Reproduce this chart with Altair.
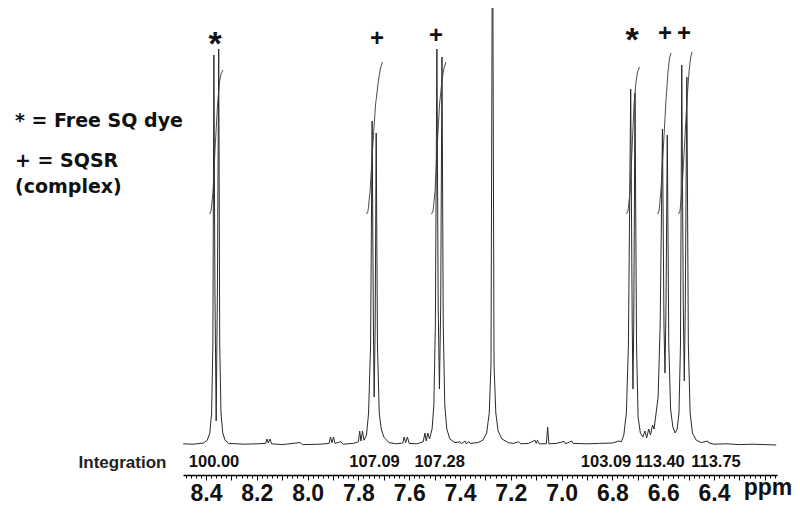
import altair as alt
import pandas as pd

# ---------------- data ----------------
# 1H NMR trace: (chemical shift / ppm, intensity in arbitrary units)
spectrum = [
    (8.490, 0.3), (8.450, 0.2), (8.410, 0.5), (8.395, 1.2), (8.385, 3.0), (8.378, 8.0),
    (8.373, 25.0), (8.369, 97.5), (8.365, 40.0), (8.360, 6.0), (8.355, 40.0), (8.350, 99.0),
    (8.346, 25.0), (8.341, 8.0), (8.334, 3.0), (8.325, 1.2), (8.310, 0.4),
    (8.250, 0.2), (8.200, 0.3), (8.165, 0.4), (8.160, 1.5), (8.155, 0.5), (8.148, 1.5),
    (8.142, 0.3), (8.100, 0.1), (8.030, 0.6), (8.020, 0.1), (7.950, 0.2), (7.915, 0.4),
    (7.910, 2.0), (7.904, 0.6), (7.898, 2.0), (7.892, 0.4), (7.870, 0.8), (7.860, 0.2),
    (7.820, 0.4), (7.800, 0.8), (7.795, 3.5), (7.790, 1.0), (7.784, 3.5), (7.778, 1.2),
    (7.768, 2.5), (7.760, 8.0), (7.752, 25.0), (7.746, 81.0), (7.741, 30.0), (7.738, 12.0),
    (7.734, 30.0), (7.730, 78.0), (7.725, 25.0), (7.718, 8.0), (7.710, 4.0), (7.700, 2.0),
    (7.680, 0.6), (7.650, 0.3), (7.625, 0.5), (7.620, 2.0), (7.614, 0.6), (7.607, 2.0),
    (7.600, 0.4), (7.570, 0.3), (7.545, 0.8), (7.538, 3.0), (7.533, 1.0), (7.527, 3.0),
    (7.520, 1.5), (7.510, 4.0), (7.503, 10.0), (7.497, 30.0), (7.491, 99.0), (7.486, 35.0),
    (7.481, 14.0), (7.476, 35.0), (7.471, 97.0), (7.466, 30.0), (7.460, 10.0), (7.452, 4.0),
    (7.440, 1.5), (7.420, 0.6), (7.400, 0.8), (7.395, 0.3), (7.380, 1.0), (7.375, 0.3),
    (7.365, 0.8), (7.360, 0.4), (7.330, 0.6), (7.310, 1.2), (7.295, 3.0), (7.285, 8.0),
    (7.278, 20.0), (7.272, 140.0), (7.266, 20.0), (7.259, 8.0), (7.250, 3.5), (7.235, 1.5),
    (7.210, 0.6), (7.190, 0.4), (7.170, 0.8), (7.160, 0.3), (7.130, 0.4), (7.105, 1.2),
    (7.100, 0.4), (7.095, 1.2), (7.088, 0.3), (7.060, 0.3), (7.055, 4.5), (7.050, 0.3),
    (7.020, 0.4), (6.990, 0.9), (6.985, 0.3), (6.960, 1.0), (6.955, 0.4), (6.900, 0.3),
    (6.850, 0.4), (6.800, 0.5), (6.775, 1.0), (6.765, 0.8), (6.755, 2.5), (6.745, 8.0),
    (6.737, 25.0), (6.728, 89.0), (6.722, 30.0), (6.719, 14.0), (6.716, 30.0), (6.711, 88.0),
    (6.705, 25.0), (6.699, 7.0), (6.690, 3.0), (6.680, 2.0), (6.672, 3.5), (6.665, 1.8),
    (6.657, 4.0), (6.650, 2.5), (6.642, 5.0), (6.636, 4.0), (6.628, 8.0), (6.620, 12.0),
    (6.612, 30.0), (6.603, 79.0), (6.597, 30.0), (6.593, 18.0), (6.589, 35.0), (6.584, 77.5),
    (6.578, 25.0), (6.571, 9.0), (6.562, 4.5), (6.553, 3.0), (6.545, 4.0), (6.538, 8.0),
    (6.532, 25.0), (6.527, 95.0), (6.521, 35.0), (6.517, 16.0), (6.513, 35.0), (6.507, 92.0),
    (6.501, 25.0), (6.494, 8.0), (6.485, 3.0), (6.470, 1.2), (6.450, 0.6), (6.425, 1.0),
    (6.420, 0.5), (6.400, 0.2), (6.350, 0.3), (6.300, 0.1), (6.250, 0.2), (6.200, 0.1),
    (6.155, 0.0),
]

# integral curves drawn over each signal: (signal, ppm, integral height)
integrals = [
    ("I1", 8.3862, 57.75), ("I1", 8.3803, 58.5), ("I1", 8.3724, 63.25), ("I1", 8.3646, 73.75),
    ("I1", 8.3547, 85.0), ("I1", 8.3469, 90.75), ("I1", 8.3409, 92.75), ("I1", 8.3331, 93.75),
    ("I2", 7.7681, 57.75), ("I2", 7.7622, 58.5), ("I2", 7.7543, 63.25), ("I2", 7.7445, 73.75),
    ("I2", 7.7327, 85.0), ("I2", 7.7209, 91.25), ("I2", 7.7130, 94.25), ("I2", 7.7051, 95.75),
    ("I3", 7.5122, 57.75), ("I3", 7.5063, 58.5), ("I3", 7.4984, 63.25), ("I3", 7.4906, 73.75),
    ("I3", 7.4807, 85.0), ("I3", 7.4709, 91.25), ("I3", 7.4630, 94.25), ("I3", 7.4551, 95.75),
    ("I4", 6.7445, 57.75), ("I4", 6.7386, 58.5), ("I4", 6.7307, 63.25), ("I4", 6.7228, 73.75),
    ("I4", 6.7150, 85.0), ("I4", 6.7071, 90.75), ("I4", 6.7012, 93.25), ("I4", 6.6933, 94.5),
    ("I5", 6.6224, 57.75), ("I5", 6.6165, 58.5), ("I5", 6.6087, 63.75), ("I5", 6.5988, 75.0),
    ("I5", 6.5890, 86.25), ("I5", 6.5811, 93.25), ("I5", 6.5752, 96.75), ("I5", 6.5693, 98.0),
    ("I6", 6.5398, 57.75), ("I6", 6.5339, 58.5), ("I6", 6.5260, 63.75), ("I6", 6.5161, 75.0),
    ("I6", 6.5063, 86.25), ("I6", 6.4984, 93.25), ("I6", 6.4925, 96.75), ("I6", 6.4866, 98.25),
]

# peak markers
marker_ppm = [8.3646, 7.7268, 7.4945, 6.7228, 6.5929, 6.5181]
marker_sym = ["*", "+", "+", "*", "+", "+"]
marker_int = [102.0, 101.75, 102.5, 103.0, 103.0, 103.0]

# integration values under the signals
integ_ppm = [8.3685, 7.7366, 7.4803, 6.8252, 6.6126, 6.3921]
integ_text = ["100.00", "107.09", "107.28", "103.09", "113.40", "113.75"]

# axis labels
tick_labels = [8.4, 8.2, 8.0, 7.8, 7.6, 7.4, 7.2, 7.0, 6.8, 6.6, 6.4]
minor_ticks = [round(6.16 + 0.02 * i, 2) for i in range(117)]

legend_lines = ["* = Free SQ dye", "+ = SQSR", "(complex)"]
legend_int = [79.5, 69.5, 63.0]

# ---------------- tables ----------------
spec_df = pd.DataFrame({
    "ppm": [p for p, _ in spectrum],
    "intensity": [v for _, v in spectrum],
    "idx": list(range(len(spectrum))),
})
int_df = pd.DataFrame({
    "group": [g for g, _, _ in integrals],
    "ppm": [p for _, p, _ in integrals],
    "intensity": [v for _, _, v in integrals],
    "idx": list(range(len(integrals))),
})
plus_df = pd.DataFrame({
    "ppm": [p for p, s in zip(marker_ppm, marker_sym) if s == "+"],
    "intensity": [v for v, s in zip(marker_int, marker_sym) if s == "+"],
    "text": ["+" for s in marker_sym if s == "+"],
})
star_df = pd.DataFrame({
    "ppm": [p for p, s in zip(marker_ppm, marker_sym) if s == "*"],
    "intensity": [v for v, s in zip(marker_int, marker_sym) if s == "*"],
    "text": ["*" for s in marker_sym if s == "*"],
})
integ_df = pd.DataFrame({"ppm": integ_ppm, "intensity": [-5.5] * len(integ_ppm), "text": integ_text})
label_df = pd.DataFrame({"ppm": [8.7287], "intensity": [-5.75], "text": ["Integration"]})
unit_df = pd.DataFrame({"ppm": [6.1874], "intensity": [-12.5], "text": ["ppm"]})
legend_df = pd.DataFrame({"ppm": [9.152] * 3, "intensity": legend_int, "text": legend_lines})

# ---------------- encodings ----------------
major_test = "abs(datum.value*10 - round(datum.value*10)) < 0.001"
lo, hi = min(tick_labels) - 0.01, max(tick_labels) + 0.01
label_test = (f"datum.value >= {lo} && datum.value <= {hi} && "
              "abs(datum.value*5 - round(datum.value*5)) < 0.001")

x_axis = alt.Axis(
    values=minor_ticks,
    title=None,
    grid=False,
    domainColor="#000000",
    domainWidth=1.3,
    tickColor="#000000",
    tickWidth=1,
    tickSize={"condition": {"test": major_test, "value": 5}, "value": 3},
    labelExpr=f"({label_test}) ? format(datum.value, '.1f') : ''",
    labelFont="Liberation Sans",
    labelFontSize=23,
    labelFontWeight="bold",
    labelColor="#111111",
    labelPadding=2,
    labelOverlap=False,
    labelFlush=False,
    labelBound=False,
)
x_enc = alt.X("ppm:Q", scale=alt.Scale(domain=[8.4906, 6.152], nice=False, zero=False), axis=x_axis)
y_enc = alt.Y("intensity:Q", scale=alt.Scale(domain=[-7.5, 109.25], nice=False, zero=False), axis=None)

spec = alt.Chart(spec_df).mark_line(color="#2a2a2a", strokeWidth=1, clip=True).encode(
    x=x_enc, y=y_enc, order=alt.Order("idx:Q"))

integ_lines = alt.Chart(int_df).mark_line(color="#3a3a3a", strokeWidth=0.9, clip=True).encode(
    x=x_enc, y=y_enc, detail="group:N", order=alt.Order("idx:Q"))

plus_marks = alt.Chart(plus_df).mark_text(
    font="Liberation Sans", fontSize=24, fontWeight="bold", color="#111111",
    align="center", baseline="alphabetic", dy=8).encode(x=x_enc, y=y_enc, text="text:N")

star_marks = alt.Chart(star_df).mark_text(
    font="Liberation Sans", fontSize=34, fontWeight="bold", color="#111111",
    align="center", baseline="alphabetic", dy=18).encode(x=x_enc, y=y_enc, text="text:N")

integ_text_marks = alt.Chart(integ_df).mark_text(
    font="Liberation Sans", fontSize=16.5, fontWeight="bold", color="#111111",
    align="center", baseline="alphabetic").encode(x=x_enc, y=y_enc, text="text:N")

integ_label = alt.Chart(label_df).mark_text(
    font="Liberation Sans", fontSize=17, fontWeight="bold", color="#222222",
    align="center", baseline="alphabetic").encode(x=x_enc, y=y_enc, text="text:N")

unit_label = alt.Chart(unit_df).mark_text(
    font="Liberation Sans", fontSize=23, fontWeight="bold", color="#111111",
    align="center", baseline="alphabetic").encode(x=x_enc, y=y_enc, text="text:N")

legend_text = alt.Chart(legend_df).mark_text(
    font="DejaVu Sans", fontSize=19, fontWeight="bold", color="#111111",
    align="left", baseline="alphabetic").encode(x=x_enc, y=y_enc, text="text:N")

chart = alt.layer(
    spec, integ_lines, plus_marks, star_marks, integ_text_marks, integ_label, unit_label, legend_text
).properties(
    width=594,
    height=467,
    autosize=alt.AutoSizeParams(type="none"),
    padding={"left": 175, "top": 0, "right": 15, "bottom": 30},
    background="white",
).configure_view(stroke=None)

chart.save("out.html", embed_options={"renderer": "svg", "actions": False})
